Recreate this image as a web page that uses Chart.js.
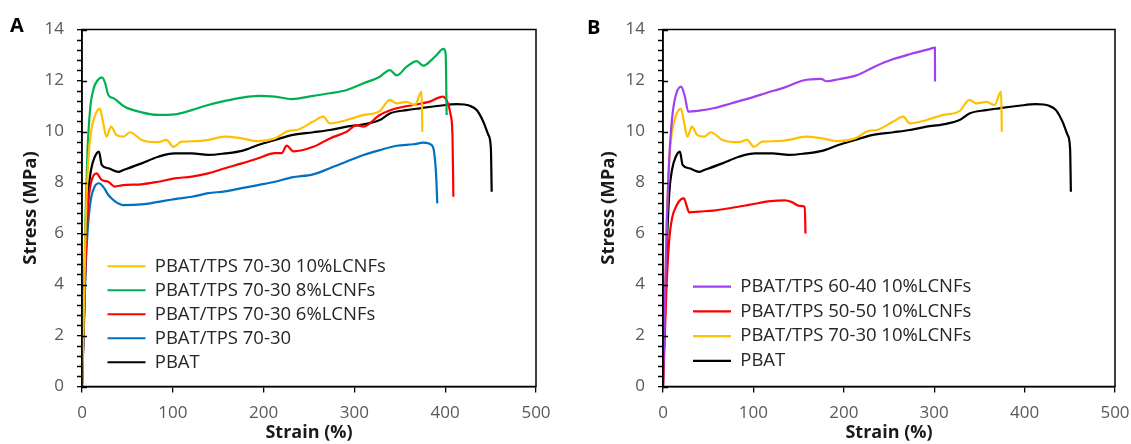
<!DOCTYPE html>
<html><head><meta charset="utf-8">
<script src="https://cdn.jsdelivr.net/npm/chart.js@4.4.1/dist/chart.umd.min.js"></script>
<style>
html,body{margin:0;padding:0;background:#fff;overflow:hidden}
#wrap{position:relative;width:1131px;height:444px;background:#fff}
canvas{position:absolute;top:0}
#cA{left:0}
#cB{left:570px}
</style></head><body>
<div id="wrap"><canvas id="cA" width="570" height="444"></canvas><canvas id="cB" width="561" height="444"></canvas></div>
<script>
// ---------- data (strain %, stress MPa) ----------
const xTicks = [0, 100, 200, 300, 400, 500];
const yTicks = [0, 2, 4, 6, 8, 10, 12, 14];

const pbatStrain = [0, 2, 4, 7, 10, 14, 18.7, 21.7, 29, 40, 45.6, 65.7, 84, 102, 121, 139, 157.5, 176, 194, 212.5, 231, 254.7, 273, 291.5, 310, 328, 339, 357.6, 372, 394, 412.6, 427, 434.7, 442, 447.6, 450.3, 451.2];
const pbatStress = [0, 2.5, 5.2, 7.6, 8.5, 9.0, 9.21, 8.69, 8.56, 8.42, 8.49, 8.75, 9.01, 9.14, 9.14, 9.08, 9.14, 9.24, 9.47, 9.67, 9.86, 9.97, 10.06, 10.19, 10.28, 10.45, 10.71, 10.84, 10.91, 11.01, 11.07, 11.01, 10.84, 10.38, 9.86, 9.34, 7.64];

const l10Strain = [0, 2, 4, 7, 10, 14, 19.8, 23, 27, 32, 38, 45.6, 52.9, 65.7, 84, 93, 100.6, 109.8, 125, 139, 157.5, 176, 194, 212.5, 227, 236.5, 254.7, 265.8, 273, 291.5, 310, 328, 339, 346.6, 357.6, 366.7, 374, 374.8];
const l10Stress = [0, 3, 6.3, 8.9, 10.0, 10.6, 10.9, 10.4, 9.8, 10.19, 9.86, 9.8, 9.97, 9.67, 9.58, 9.67, 9.4, 9.6, 9.62, 9.67, 9.8, 9.73, 9.62, 9.73, 10.02, 10.06, 10.39, 10.58, 10.32, 10.45, 10.65, 10.8, 11.24, 11.1, 11.16, 11.04, 11.56, 9.99];

const l8Strain = [0, 2, 4, 6, 9, 13, 17, 22, 25.5, 29, 35, 47, 65.7, 84, 102, 121, 139, 157.5, 176, 194, 212.5, 231, 254.7, 273, 291.5, 310, 328, 339, 346.6, 357.6, 368.6, 376, 383, 390.6, 398, 400.5, 401.6];
const l8Stress = [0, 3.2, 6.8, 9.2, 10.9, 11.7, 12.0, 12.12, 11.9, 11.43, 11.3, 10.97, 10.75, 10.65, 10.67, 10.84, 11.04, 11.2, 11.33, 11.4, 11.37, 11.27, 11.4, 11.5, 11.63, 11.89, 12.15, 12.41, 12.2, 12.54, 12.76, 12.58, 12.74, 13.0, 13.24, 13.07, 10.65];

const l6Strain = [0, 2, 4, 7, 10, 16, 21.7, 29, 36, 45.6, 65.7, 84, 102, 121, 139, 157.5, 176, 194, 212.5, 220, 225.4, 232.7, 254.7, 273, 291.5, 302.5, 310, 328, 346.6, 364.9, 383, 397.4, 403, 406, 408, 409];
const l6Stress = [0, 2.5, 5.0, 7.2, 8.0, 8.36, 8.1, 8.03, 7.84, 7.9, 7.93, 8.03, 8.16, 8.23, 8.36, 8.56, 8.75, 8.95, 9.15, 9.15, 9.45, 9.22, 9.4, 9.73, 9.99, 10.25, 10.19, 10.65, 10.91, 11.04, 11.17, 11.37, 11.1, 10.65, 9.86, 7.44];

const b7030Strain = [0, 2, 4, 7, 10, 14, 18.7, 24, 29, 35, 40, 45.6, 65.7, 84, 102, 121, 139, 157.5, 176, 194, 212.5, 231, 254.7, 273, 291.5, 310, 328, 346.6, 364.9, 376, 385, 387.7, 390, 391.3];
const b7030Stress = [0, 2.2, 4.6, 6.5, 7.4, 7.85, 7.97, 7.8, 7.51, 7.3, 7.18, 7.11, 7.14, 7.24, 7.35, 7.44, 7.58, 7.65, 7.78, 7.9, 8.03, 8.2, 8.32, 8.56, 8.82, 9.08, 9.27, 9.44, 9.5, 9.56, 9.47, 9.21, 8.29, 7.18];

const b6040Strain = [0, 2, 4, 7, 10, 14, 20, 24, 28, 40, 55.7, 75, 95, 115, 134.7, 155, 174.7, 181, 194.5, 214, 234, 254, 273.8, 293.6, 300.8, 300.9];
const b6040Stress = [0, 3, 6.2, 9.0, 10.5, 11.4, 11.76, 11.4, 10.78, 10.82, 10.91, 11.1, 11.3, 11.52, 11.73, 12.0, 12.06, 11.97, 12.05, 12.2, 12.54, 12.83, 13.04, 13.22, 13.29, 11.96];

const b5050Strain = [0, 2, 4, 7, 10, 15, 20, 23.2, 26, 29, 40, 55.7, 75, 95, 119, 134.7, 142, 151, 156.8, 157.6];
const b5050Stress = [0, 2.0, 4.0, 5.8, 6.6, 7.1, 7.35, 7.38, 7.1, 6.83, 6.86, 6.9, 7.0, 7.12, 7.27, 7.3, 7.24, 7.08, 7.05, 6.0];

const MINOR_Y = 0.4;
const FONT = "'Open Sans', sans-serif";

function pts(xs, ys) { return xs.map((x, i) => ({x: x, y: ys[i]})); }
function ds(label, xs, ys, color) {
  return { label: label, data: pts(xs, ys), borderColor: color, backgroundColor: color,
    borderWidth: 2.2, pointRadius: 0, fill: false, cubicInterpolationMode: 'monotone', borderJoinStyle: 'round' };
}

const legendPlace = {
  id: 'legendPlace',
  afterLayout(chart, args, opts) {
    const lg = chart.legend;
    if (!lg) return;
    const w = lg.width;
    lg.left = opts.x; lg.top = opts.y; lg.right = opts.x + w; lg.bottom = opts.y + 400;
  }
};

const frame = {
  id: 'frame',
  afterDatasetsDraw(chart) {
    const {ctx, chartArea: a, scales} = chart;
    const y = scales.y;
    ctx.save();
    ctx.strokeStyle = '#000';
    ctx.lineWidth = 1.3;
    ctx.beginPath();
    const n = Math.round((y.max - y.min) / MINOR_Y);
    for (let i = 0; i <= n; i++) {
      const v = y.min + i * MINOR_Y;
      const p = Math.round(y.getPixelForValue(v)) + 0.5;
      const major = Math.abs(v / 2 - Math.round(v / 2)) < 1e-6;
      if (major) { ctx.moveTo(a.left, p); ctx.lineTo(a.left + 5, p); }
      else { ctx.moveTo(a.left - 5, p); ctx.lineTo(a.left, p); }
    }
    ctx.stroke();
    ctx.lineWidth = 1.5;
    ctx.strokeRect(a.left, a.top, a.right - a.left, a.bottom - a.top);
    ctx.restore();
  }
};

function makeChart(id, p) {
  return new Chart(document.getElementById(id), {
    type: 'line',
    data: { datasets: p.datasets },
    plugins: [legendPlace, frame],
    options: {
      responsive: false, animation: false, devicePixelRatio: 1, events: [],
      layout: { padding: { left: p.padLeft, right: p.padRight, top: 0, bottom: 0 } },
      scales: {
        x: {
          type: 'linear', min: xTicks[0], max: xTicks[xTicks.length - 1],
          afterBuildTicks: s => { s.ticks = xTicks.map(v => ({value: v})); },
          afterFit: s => { s.height = 57.5; s.paddingRight = 0; s.paddingLeft = 0; },
          ticks: { color: '#595959', font: { family: FONT, size: 17 }, padding: 10, maxRotation: 0, autoSkip: false },
          grid: { drawOnChartArea: false, drawTicks: true, tickLength: 6, color: '#000', lineWidth: 1.3 },
          border: { display: true, color: '#000', width: 1.5 },
          title: { display: true, text: 'Strain (%)', color: '#1a1a1a', font: { family: FONT, size: 18, weight: 'bold', lineHeight: 1 }, padding: { top: 0, bottom: 2 } }
        },
        y: {
          type: 'linear', min: yTicks[0], max: yTicks[yTicks.length - 1],
          afterBuildTicks: s => { s.ticks = yTicks.map(v => ({value: v})); },
          afterFit: s => { s.width = p.yWidth; },
          ticks: { color: '#595959', font: { family: FONT, size: 17 }, padding: 13 },
          grid: { drawOnChartArea: false, drawTicks: true, tickLength: 5, color: '#000', lineWidth: 1.3 },
          border: { display: true, color: '#000', width: 1.5 },
          title: { display: true, text: 'Stress (MPa)', color: '#1a1a1a', font: { family: FONT, size: 18.5, weight: 'bold', lineHeight: 1 }, padding: { top: p.yTitlePad, bottom: 0 } }
        }
      },
      plugins: {
        tooltip: { enabled: false },
        title: { display: true, text: p.letter, align: 'start', color: '#000',
          font: { family: FONT, size: 20, weight: 'bold', lineHeight: 0.1 },
          padding: { top: p.letterTop, bottom: p.letterBottom } },
        legend: {
          position: 'chartArea', align: 'start',
          labels: { usePointStyle: true, pointStyle: 'line', pointStyleWidth: 38, color: '#262626',
            font: { family: FONT, size: 18.5 }, padding: p.legPad }
        },
        legendPlace: { x: p.legX, y: p.legY }
      }
    }
  });
}

const COL = { yellow: '#FFC000', green: '#00B050', red: '#FF0000', blue: '#0070C0', black: '#000000', purple: '#A040F0' };

makeChart('cA', {
  letter: 'A', padLeft: 10, padRight: 34, yWidth: 72, yTitlePad: 11.75, letterTop: 25.5, letterBottom: 2,
  legX: 102, legY: 251.5, legPad: 5.5,
  datasets: [
    ds('PBAT/TPS 70-30 10%LCNFs', l10Strain, l10Stress, COL.yellow),
    ds('PBAT/TPS 70-30 8%LCNFs', l8Strain, l8Stress, COL.green),
    ds('PBAT/TPS 70-30 6%LCNFs', l6Strain, l6Stress, COL.red),
    ds('PBAT/TPS 70-30', b7030Strain, b7030Stress, COL.blue),
    ds('PBAT', pbatStrain, pbatStress, COL.black)
  ]
});

makeChart('cB', {
  letter: 'B', padLeft: 17, padRight: 16, yWidth: 76, yTitlePad: 12.25, letterTop: 27.5, letterBottom: 0,
  legX: 116.7, legY: 271, legPad: 6.3,
  datasets: [
    ds('PBAT/TPS 60-40 10%LCNFs', b6040Strain, b6040Stress, COL.purple),
    ds('PBAT/TPS 50-50 10%LCNFs', b5050Strain, b5050Stress, COL.red),
    ds('PBAT/TPS 70-30 10%LCNFs', l10Strain, l10Stress, COL.yellow),
    ds('PBAT', pbatStrain, pbatStress, COL.black)
  ]
});
</script>
</body></html>
